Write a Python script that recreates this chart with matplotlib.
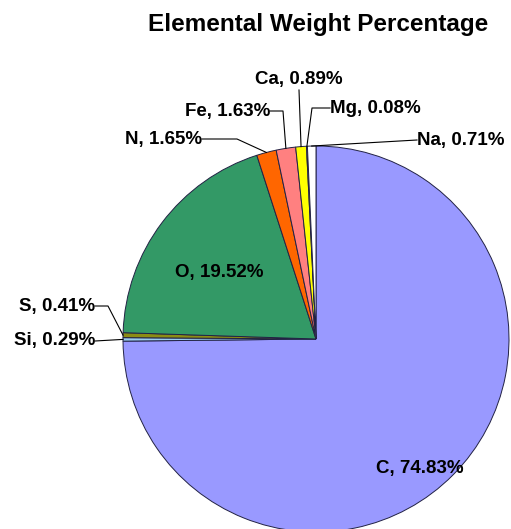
import numpy as np
from matplotlib import pyplot as plt

# elements in drawing order (clockwise from 12 o'clock)
elements = ['C', 'Si', 'S', 'O', 'N', 'Fe', 'Ca', 'Mg', 'Na']
percent = [74.83, 0.29, 0.41, 19.52, 1.65, 1.63, 0.89, 0.08, 0.71]
colors = ['#9999FF', '#99CCEE', '#8C8C14', '#339966', '#FF6600',
          '#FF8080', '#FFFF00', '#FFFFCC', '#FFFFFF']

W, H = 511, 529
fig = plt.figure(figsize=(W / 100, H / 100), dpi=100)
plt.rcParams['font.family'] = ['Liberation Sans', 'DejaVu Sans']

# pie centre / radius in pixels
cx, cy, R = 316, 339, 193
ax = fig.add_axes([(cx - R) / W, (H - cy - R) / H, 2 * R / W, 2 * R / H])
wedges, _ = ax.pie(percent, colors=colors, startangle=90, counterclock=False,
                   radius=1, wedgeprops=dict(edgecolor='#222244', linewidth=0.7))
ax.set_xlim(-1, 1)
ax.set_ylim(-1, 1)
ax.axis('off')


def px(x, y):
    # pixel -> data units of the pie axes
    return (x - cx) / R, (cy - y) / R


def edge_point(i):
    w = wedges[i]
    a = np.deg2rad((w.theta1 + w.theta2) / 2)
    return np.cos(a), np.sin(a)


lab = [f'{e}, {p:.2f}%' for e, p in zip(elements, percent)]
fs = 13.5
txt = dict(fontsize=fs, fontweight='bold', clip_on=False)

# labels inside the two big slices
ax.text(*px(420, 468), lab[0], ha='center', va='center', **txt)
ax.text(*px(219, 272), lab[3], ha='center', va='center', **txt)

# outside labels: (index, text pixel pos, ha, elbow pixel or None)
outside = [
    (1, (95, 341), 'right', None),
    (2, (95, 306), 'right', (108, 306)),
    (4, (202, 139), 'right', (237, 139)),
    (5, (270, 111), 'right', (283, 111)),
    (6, (299, 79), 'center', None),
    (7, (330, 108), 'left', (312, 108)),
    (8, (417, 140), 'left', None),
]
for i, (x, y), ha, elbow in outside:
    tx, ty = px(x, y)
    ax.text(tx, ty, lab[i], ha=ha, va='center', **txt)
    ex, ey = edge_point(i)
    if ha == 'center':
        xs, ys = [tx, ex], [ty - 11 / R, ey]
    elif elbow is None:
        xs, ys = [tx, ex], [ty, ey]
    else:
        bx, by = px(*elbow)
        xs, ys = [tx, bx, ex], [ty, by, ey]
    ax.plot(xs, ys, color='black', lw=0.8, clip_on=False)

fig.text(318 / W, 1 - 25 / H, 'Elemental Weight Percentage', ha='center',
         va='center', fontsize=17.5, fontweight='bold')

fig.savefig('out.png', dpi=100)
